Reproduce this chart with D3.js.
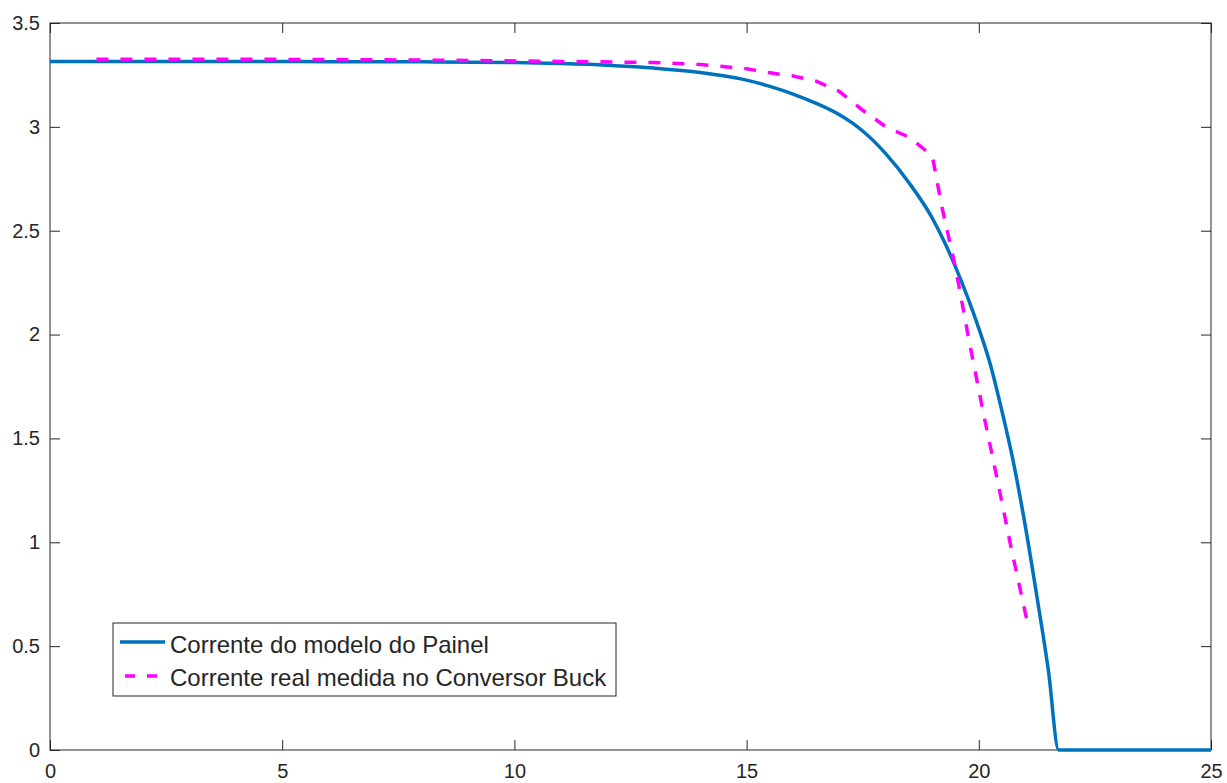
<!DOCTYPE html>
<html>
<head>
<meta charset="utf-8">
<script src="https://cdn.jsdelivr.net/npm/d3@7"></script>
<style>
  body { margin: 0; background: #fff; }
  svg { display: block; font-family: Arial, "Liberation Sans", Helvetica, sans-serif; }
</style>
</head>
<body>
<div id="chart"></div>
<script>
// Curva I-V: modelo do painel vs medida no conversor Buck

// Modelo do painel
const modelV = [0, 2, 4, 6, 8, 10, 11, 12, 13, 14, 14.5, 15, 15.5, 16, 16.5, 17, 17.5, 18, 18.5,
    19, 19.25, 19.5, 19.75, 20, 20.25, 20.5, 20.75, 21, 21.25, 21.5, 21.72, 25];
const modelI = [3.315, 3.315, 3.315, 3.314, 3.313, 3.31, 3.305, 3.297, 3.283, 3.262, 3.246, 3.225, 3.195, 3.158, 3.113, 3.058, 2.98, 2.87, 2.73,
    2.56, 2.45, 2.325, 2.185, 2.03, 1.855, 1.63, 1.38, 1.08, 0.74, 0.38, 0, 0];

// Medida real (conversor Buck)
const measV = [1, 3, 5, 7, 9, 11, 13, 14, 15, 15.5, 16, 16.5, 17, 17.5, 18, 18.5, 19,
    19.2, 19.5, 19.8, 20.1, 20.4, 20.7, 21.04];
const measI = [3.325, 3.325, 3.325, 3.323, 3.32, 3.315, 3.31, 3.30, 3.28, 3.26, 3.245, 3.22, 3.17, 3.08, 3.0, 2.95, 2.86,
    2.62, 2.32, 1.96, 1.62, 1.30, 0.97, 0.62];

const xTicks = [0, 5, 10, 15, 20, 25];
const yTicks = [0, 0.5, 1, 1.5, 2, 2.5, 3, 3.5];
const legendLabels = ['Corrente do modelo do Painel', 'Corrente real medida no Conversor Buck'];

const width = 1227;
const height = 783;
const margin = { left: 50, right: 16, top: 23, bottom: 33 };
const axisColor = '#262626';

const svg = d3.select('#chart')
    .append('svg')
    .attr('width', width)
    .attr('height', height);

const x = d3.scaleLinear().domain([0, 25]).range([margin.left, width - margin.right]);
const y = d3.scaleLinear().domain([0, 3.5]).range([height - margin.bottom, margin.top]);

// axes (ticks inside, box on)
const tickLen = 10;
function styleAxis(g) {
    g.select('.domain').remove();
    g.selectAll('.tick line').attr('stroke', axisColor);
    g.selectAll('.tick text').attr('fill', axisColor).style('font-size', '20px');
}

svg.append('g')
    .attr('transform', `translate(0,${y(0)})`)
    .call(d3.axisBottom(x).tickValues(xTicks).tickSize(-tickLen).tickPadding(14).tickFormat(d3.format('d')))
    .call(styleAxis);

svg.append('g')
    .attr('transform', `translate(0,${y(3.5)})`)
    .call(d3.axisTop(x).tickValues(xTicks).tickSize(-tickLen).tickFormat(''))
    .call(styleAxis);

svg.append('g')
    .attr('transform', `translate(${x(0)},0)`)
    .call(d3.axisLeft(y).tickValues(yTicks).tickSize(-tickLen).tickPadding(10).tickFormat(d => String(d)))
    .call(styleAxis);

svg.append('g')
    .attr('transform', `translate(${x(25)},0)`)
    .call(d3.axisRight(y).tickValues(yTicks).tickSize(-tickLen).tickFormat(''))
    .call(styleAxis);

svg.append('rect')
    .attr('x', x(0))
    .attr('y', y(3.5))
    .attr('width', x(25) - x(0))
    .attr('height', y(0) - y(3.5))
    .attr('fill', 'none')
    .attr('stroke', axisColor)
    .attr('stroke-width', 1);

// lines
const smooth = d3.line().curve(d3.curveMonotoneX).x(d => x(d[0])).y(d => y(d[1]));
const line = d3.line().x(d => x(d[0])).y(d => y(d[1]));

svg.append('path')
    .datum(modelV.map((v, i) => [v, modelI[i]]))
    .attr('d', smooth)
    .attr('fill', 'none')
    .attr('stroke', '#0072BD')
    .attr('stroke-width', 3.5)
    .attr('stroke-linejoin', 'round');

svg.append('path')
    .datum(measV.map((v, i) => [v, measI[i]]))
    .attr('d', line)
    .attr('fill', 'none')
    .attr('stroke', '#FF00FF')
    .attr('stroke-width', 3.5)
    .attr('stroke-dasharray', '12,12');

// legend
const legend = svg.append('g').attr('transform', 'translate(113,623)');
legend.append('rect')
    .attr('width', 503)
    .attr('height', 73)
    .attr('fill', '#fff')
    .attr('stroke', axisColor)
    .attr('stroke-width', 1);

legend.append('line')
    .attr('x1', 7).attr('x2', 52)
    .attr('y1', 19).attr('y2', 19)
    .attr('stroke', '#0072BD')
    .attr('stroke-width', 3.5);

legend.append('line')
    .attr('x1', 12).attr('x2', 44)
    .attr('y1', 53).attr('y2', 53)
    .attr('stroke', '#FF00FF')
    .attr('stroke-width', 3.5)
    .attr('stroke-dasharray', '10,12');

legend.selectAll('text.label')
    .data(legendLabels)
    .join('text')
    .attr('class', 'label')
    .attr('x', 57)
    .attr('y', (d, i) => 30 + i * 33)
    .attr('fill', axisColor)
    .style('font-size', '24px')
    .text(d => d);
</script>
</body>
</html>
